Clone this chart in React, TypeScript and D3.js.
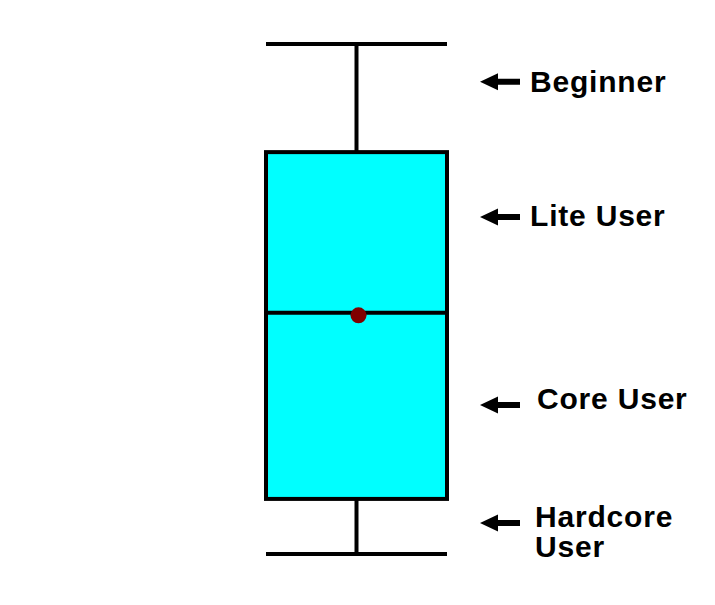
import React, { useEffect, useRef } from "react";
import * as d3 from "d3";

// box plot summary (arbitrary units, 0..100)
const boxStats = { min: 0, q1: 10.8, median: 47.3, q3: 78.8, max: 100 };
const meanValue = [46.8];

// segment labels on the right, placed at a value on the same scale
const labelNames = ["Beginner", "Lite User", "Core User", "Hardcore User"];
const labelValues = [92.6, 66.1, 29.2, 6.1];
const labelLines = [["Beginner"], ["Lite User"], ["Core User"], ["Hardcore", "User"]];

const App = () => {
  const ref = useRef<SVGSVGElement | null>(null);

  useEffect(() => {
    const svg = d3.select(ref.current);
    svg.selectAll("*").remove();

    const y = d3.scaleLinear().domain([0, 100]).range([554, 44]);
    const x = d3.scaleLinear().domain([0, 1]).range([266, 447]);
    const cx = 356.5;

    const g = svg.append("g").attr("stroke", "#000").attr("stroke-width", 4);

    // whiskers
    g.append("line")
      .attr("x1", cx).attr("x2", cx)
      .attr("y1", y(boxStats.max)).attr("y2", y(boxStats.q3));
    g.append("line")
      .attr("x1", cx).attr("x2", cx)
      .attr("y1", y(boxStats.q1)).attr("y2", y(boxStats.min));
    g.selectAll("line.cap")
      .data([boxStats.max, boxStats.min])
      .join("line")
      .attr("class", "cap")
      .attr("x1", x(0)).attr("x2", x(1))
      .attr("y1", d => y(d)).attr("y2", d => y(d));

    // box
    g.append("rect")
      .attr("x", x(0))
      .attr("y", y(boxStats.q3))
      .attr("width", x(1) - x(0))
      .attr("height", y(boxStats.q1) - y(boxStats.q3))
      .attr("fill", "#00ffff");

    // median
    g.append("line")
      .attr("x1", x(0)).attr("x2", x(1))
      .attr("y1", y(boxStats.median)).attr("y2", y(boxStats.median));

    // mean dot
    svg.selectAll("circle.mean")
      .data(meanValue)
      .join("circle")
      .attr("class", "mean")
      .attr("cx", 358.5)
      .attr("cy", d => y(d))
      .attr("r", 8)
      .attr("fill", "#800000");

    // labels with arrows
    const textX = [530, 530, 537, 535];
    const textDy = [10, 9, 4, 4];

    const lab = svg.append("g")
      .selectAll("g")
      .data(labelNames)
      .join("g")
      .attr("transform", (d, i) => `translate(0,${y(labelValues[i])})`);

    lab.append("path")
      .attr("d", "M480,0 L498,-8.5 L498,-3 L520,-3 L520,3 L498,3 L498,8.5 Z")
      .attr("fill", "#000");

    lab.append("text")
      .attr("x", (d, i) => textX[i])
      .attr("y", (d, i) => textDy[i])
      .style("font-family", "'Liberation Sans', Arial, sans-serif")
      .style("font-weight", "bold")
      .style("font-size", "30px")
      .style("letter-spacing", "0.8px")
      .attr("fill", "#000")
      .selectAll("tspan")
      .data((d, i) => labelLines[i])
      .join("tspan")
      .attr("x", function () {
        return (this.parentNode as SVGTextElement).getAttribute("x");
      })
      .attr("dy", (d, j) => (j === 0 ? 0 : 30))
      .text(d => d);
  }, []);

  return (
    <svg
      ref={ref}
      width={715}
      height={605}
      style={{ position: "absolute", left: 0, top: 0, background: "#fff" }}
    />
  );
};

export default App;
